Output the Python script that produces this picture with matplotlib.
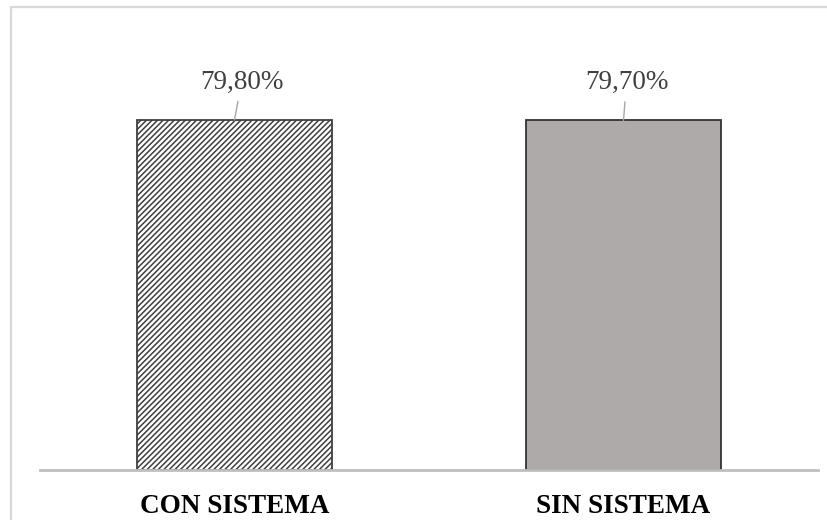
import matplotlib
matplotlib.use("Agg")
import matplotlib.pyplot as plt
from matplotlib.patches import Rectangle

categories = ["CON SISTEMA", "SIN SISTEMA"]
values = [79.8, 79.7]
value_labels = ["79,80%", "79,70%"]

plt.rcParams["font.family"] = ["Liberation Serif", "DejaVu Serif"]
plt.rcParams["hatch.linewidth"] = 1.1

W, H = 828, 520
fig = plt.figure(figsize=(W / 100, H / 100), dpi=100)

# light frame around the chart area
fig.patches.append(Rectangle((10.5 / W, -0.05), 1.0, 1 - 6.5 / H + 0.05,
                             transform=fig.transFigure, fill=False,
                             edgecolor="#D9D9D9", linewidth=1.6))

ax_left, ax_right = 40, 818
ax_bottom, ax_top = 470, 31.4
ax = fig.add_axes([ax_left / W, 1 - ax_bottom / H,
                   (ax_right - ax_left) / W, (ax_bottom - ax_top) / H])

x = list(range(len(categories)))
bars = ax.bar(x, values, width=0.5, zorder=2, linewidth=1.3)
bars[0].set_facecolor("white")
bars[0].set_hatch("//////")
bars[0].set_edgecolor("#3F3F3F")
bars[1].set_facecolor("#AEAAAA")
bars[1].set_edgecolor("#333333")

ax.set_xlim(-0.5, len(categories) - 0.5)
ax.set_ylim(0, 100)

for s in ["top", "right", "left"]:
    ax.spines[s].set_visible(False)
ax.spines["bottom"].set_color("#BFBFBF")
ax.spines["bottom"].set_linewidth(2.0)
ax.set_yticks([])
ax.set_xticks(x)
ax.set_xticklabels(categories, fontsize=19.5, fontweight="bold", color="black")
ax.tick_params(axis="x", length=0, pad=17)

offsets = [(7, 38), (3, 38)]
for xi, v, lab, off in zip(x, values, value_labels, offsets):
    ax.annotate(lab, xy=(xi, v), xytext=off, textcoords="offset pixels",
                ha="center", va="center", fontsize=19.5, color="#404040",
                arrowprops=dict(arrowstyle="-", color="#A6A6A6", lw=1.0,
                                shrinkA=3, shrinkB=0))

fig.savefig("out.png", dpi=100)
